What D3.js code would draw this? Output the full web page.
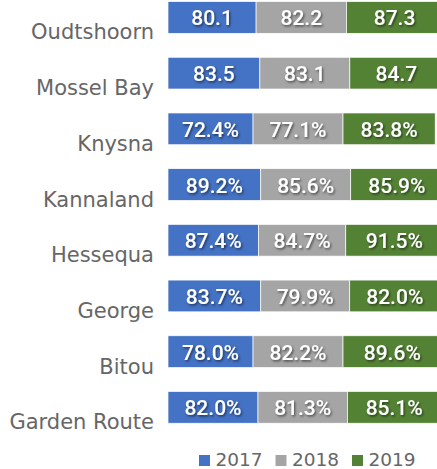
<!DOCTYPE html>
<html>
<head>
<meta charset="utf-8">
<script src="https://cdn.jsdelivr.net/npm/d3@7"></script>
<style>
  body { margin: 0; background: #fff; }
  svg { display: block; }
</style>
</head>
<body>
<div id="chart"></div>
<script>
const towns = ["Oudtshoorn", "Mossel Bay", "Knysna", "Kannaland", "Hessequa", "George", "Bitou", "Garden Route"];
const years = ["2017", "2018", "2019"];
const colours = ["#4472C4", "#A5A5A5", "#548235"];

// bar lengths as drawn in the picture
const v2017 = [80.1, 83.5, 77.3, 84.3, 82.2, 84.3, 77.3, 81.8];
const v2018 = [82.2, 81.8, 81.8, 81.8, 79.4, 80.9, 81.8, 81.3];
const v2019 = [87.3, 84.7, 83.8, 85.9, 91.5, 82.0, 89.6, 85.1];

// data labels printed on the segments
const l2017 = ["80.1", "83.5", "72.4%", "89.2%", "87.4%", "83.7%", "78.0%", "82.0%"];
const l2018 = ["82.2", "83.1", "77.1%", "85.6%", "84.7%", "79.9%", "82.2%", "81.3%"];
const l2019 = ["87.3", "84.7", "83.8%", "85.9%", "91.5%", "82.0%", "89.6%", "85.1%"];

const W = 437, H = 469;

const svg = d3.select("#chart").append("svg")
  .attr("width", W)
  .attr("height", H);

const defs = svg.append("defs");
const shadow = defs.append("filter").attr("id", "shadow")
  .attr("x", "-20%").attr("y", "-20%").attr("width", "140%").attr("height", "160%");
shadow.append("feDropShadow")
  .attr("dx", 1.2).attr("dy", 1.5).attr("stdDeviation", 0.8)
  .attr("flood-color", "#000").attr("flood-opacity", 0.55);

const rows = towns.map((t, i) => ({
  town: t,
  values: [v2017[i], v2018[i], v2019[i]],
  labels: [l2017[i], l2018[i], l2019[i]]
}));

const x = d3.scaleLinear().domain([0, 300]).range([168, 168 + 300 * 1.1]);
const y = d3.scaleBand().domain(towns).range([-10.4, 435.2])
  .paddingInner(0.43).paddingOuter(0.215);

// town names
svg.append("g").selectAll("text")
  .data(rows)
  .join("text")
  .attr("x", 154)
  .attr("y", d => y(d.town) + y.bandwidth() / 2 + 22)
  .attr("text-anchor", "end")
  .attr("font-family", "DejaVu Sans, sans-serif")
  .attr("font-size", 21)
  .attr("fill", "#666")
  .text(d => d.town);

// stacked segments
const bars = svg.append("g").selectAll("g")
  .data(rows)
  .join("g");

bars.each(function(d) {
  const g = d3.select(this);
  let start = 0;
  d.values.forEach((v, k) => {
    const x0 = x(start), x1 = x(start + v);
    g.append("rect")
      .attr("x", x0)
      .attr("y", y(d.town))
      .attr("width", x1 - x0)
      .attr("height", y.bandwidth())
      .attr("fill", colours[k])
      .attr("stroke", "#fff")
      .attr("stroke-width", 0.7);
    g.append("text")
      .attr("x", (x0 + Math.min(x1, W + 6)) / 2)
      .attr("y", y(d.town) + y.bandwidth() / 2 + 8)
      .attr("text-anchor", "middle")
      .attr("font-family", "Roboto, sans-serif")
      .attr("font-weight", 500)
      .attr("font-size", 21)
      .attr("fill", "#fff")
      .attr("filter", "url(#shadow)")
      .text(d.labels[k]);
    start += v;
  });
});

// legend
const legendX = [199, 275.5, 352];
const legend = svg.append("g").selectAll("g")
  .data(years)
  .join("g")
  .attr("transform", (d, i) => `translate(${legendX[i]},455)`);

legend.append("rect")
  .attr("width", 11).attr("height", 11)
  .attr("fill", (d, i) => colours[i]);

legend.append("text")
  .attr("x", 16.5)
  .attr("y", 11)
  .attr("font-family", "DejaVu Sans, sans-serif")
  .attr("font-size", 18.5)
  .attr("fill", "#666")
  .text(d => d);
</script>
</body>
</html>
